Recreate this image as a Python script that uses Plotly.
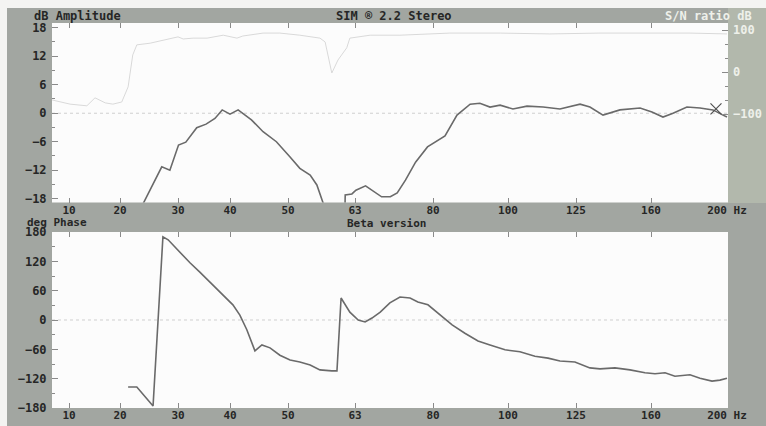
import numpy as np
import plotly.graph_objects as go

# ---------------- data ----------------
tick_freqs = [10, 20, 30, 40, 50, 63, 80, 100, 125, 160, 200]
tick_labels = ["10", "20", "30", "40", "50", "63", "80", "100", "125", "160", "200 Hz"]

amp_db_ticks = [-18, -12, -6, 0, 6, 12, 18]
sn_ticks = [-100, 0, 100]
phase_ticks = [-180, -120, -60, 0, 60, 120, 180]

# amplitude (dB), first lobe
amp1_freq = [23.8, 25.2, 27.2, 28.6, 30.1, 31.5, 33.6, 35.4, 37.1, 38.5, 40.0, 41.4,
             43.7, 45.7, 48.0, 50.4, 52.3, 54.3, 55.6, 57.0]
amp1_db = [-19.5, -16.2, -11.3, -12.0, -6.7, -6.1, -3.05, -2.3, -1.1, 0.7, -0.2, 0.7,
           -1.4, -3.9, -6.0, -9.2, -11.6, -13.0, -15.1, -19.5]
# amplitude (dB), second part
amp2_freq = [61.06, 61.1, 62.4, 63.2, 65.3, 67.0, 68.8, 70.7, 72.2, 74.0, 76.2, 78.8,
             83.2, 86.4, 89.9, 92.5, 95.2, 97.9, 101.8, 107.0, 112.9, 119.1, 126.9,
             131.5, 137.6, 145.5, 154.9, 160.5, 166.3, 171.6, 178.9, 185.8, 192.6,
             197.9, 200.0]
amp2_db = [-19.5, -17.2, -17.0, -16.2, -15.3, -16.4, -17.6, -17.6, -16.8, -14.1, -10.3,
           -7.1, -4.8, -0.4, 1.9, 2.1, 1.3, 1.7, 0.9, 1.5, 1.3, 0.9, 1.9, 1.3, -0.4,
           0.7, 1.1, 0.25, -0.8, 0.0, 1.3, 1.1, 0.7, -0.4, -0.8]

# S/N ratio (dB), faint trace on right axis
sn_freq = [6.67, 8.24, 10.2, 13.5, 15.1, 17.1, 18.6, 20.3, 21.4, 22.2, 22.9, 25.2,
           28.1, 30.0, 31.0, 32.9, 35.6, 38.7, 41.2, 42.2, 45.7, 48.6, 52.3, 56.2,
           57.2, 58.5, 59.7, 61.4, 62.0, 66.3, 72.8, 84.5, 97.9, 115.4, 135.7,
           159.5, 180.5, 200.0]
sn_db = [-66, -71, -76, -80, -61, -73, -76, -71, -35, 41, 65, 69, 77, 84, 79, 81, 81,
         88, 81, 86, 93, 93, 88, 81, 72, -2, 29, 58, 81, 88, 88, 93, 93, 91, 93, 93,
         93, 91]

# phase (deg)
phase_freq = [21.4, 22.9, 25.7, 27.4, 28.3, 32.3, 34.2, 37.4, 40.5, 41.7, 42.9, 44.3,
              45.5, 46.9, 48.6, 50.4, 52.3, 54.3, 56.2, 58.5, 59.5, 60.3, 62.0, 63.7,
              65.2, 66.7, 68.5, 70.6, 72.8, 75.0, 76.7, 78.9, 81.9, 85.1, 88.5, 92.0,
              95.2, 99.2, 104.4, 109.9, 114.7, 119.1, 124.6, 131.5, 136.2, 143.2,
              150.2, 157.2, 162.1, 167.4, 172.6, 180.5, 185.8, 192.1, 196.3, 200.0]
phase_deg = [-137, -137, -176, 170, 164, 117, 98, 65, 31, 10, -20, -63, -51, -57, -72,
             -82, -86, -92, -102, -104, -104, 45, 16, 0, -4, 4, 16, 35, 47, 45, 37, 31,
             10, -10, -27, -43, -51, -61, -65, -74, -78, -84, -86, -98, -100, -98,
             -102, -108, -110, -108, -115, -112, -119, -125, -123, -119]

cursor_freq = [194.2]
cursor_db = [0.9]

# ---------------- frequency scale (custom, piecewise) ----------------
W, H = 766, 426
SCALE_PX = [69, 120, 178, 230, 288, 355, 433, 508, 576, 651, 727]
X_LEFT, X_RIGHT = 52, 728


def fpos(f):
    f = np.asarray(f, dtype=float)
    p = np.interp(f, tick_freqs, SCALE_PX)
    slope0 = (SCALE_PX[1] - SCALE_PX[0]) / (tick_freqs[1] - tick_freqs[0])
    lo = f < tick_freqs[0]
    p[lo] = SCALE_PX[0] + (f[lo] - tick_freqs[0]) * slope0
    return p


BG = "#a2a6a1"
TXT = "#262626"
CURVE = "#6a6a6a"
FONT = "DejaVu Sans Mono"

fig = go.Figure()
fig.add_trace(go.Scatter(x=fpos(sn_freq), y=sn_db, mode="lines",
                         line=dict(color="#d9d9d9", width=1), xaxis="x", yaxis="y3",
                         hoverinfo="skip"))
fig.add_trace(go.Scatter(x=fpos(amp1_freq), y=amp1_db, mode="lines",
                         line=dict(color=CURVE, width=1.6), xaxis="x", yaxis="y"))
fig.add_trace(go.Scatter(x=fpos(amp2_freq), y=amp2_db, mode="lines",
                         line=dict(color=CURVE, width=1.6), xaxis="x", yaxis="y"))
fig.add_trace(go.Scatter(x=fpos(cursor_freq), y=cursor_db, mode="markers",
                         marker=dict(symbol="x-thin-open", size=11, color="#505050",
                                     line=dict(color="#505050", width=1.2)),
                         xaxis="x", yaxis="y"))
fig.add_trace(go.Scatter(x=fpos(phase_freq), y=phase_deg, mode="lines",
                         line=dict(color=CURVE, width=1.6), xaxis="x2", yaxis="y2"))


def px_x(p):
    return p / W


def px_y(p):
    return 1 - p / H


xtickfont = dict(family=FONT, size=11, color=TXT, weight="bold")
ytickfont = dict(family=FONT, size=12, color=TXT, weight="bold")
xcommon = dict(range=[X_LEFT, X_RIGHT], domain=[px_x(X_LEFT), px_x(X_RIGHT)],
               tickmode="array", tickvals=list(fpos(tick_freqs)), ticktext=tick_labels,
               ticks="inside", ticklen=5, tickcolor="#8a8a8a", tickwidth=1,
               showline=True, linecolor=BG, mirror="ticks", showgrid=False,
               zeroline=False, tickfont=xtickfont, fixedrange=True, automargin=False,
               ticklabelstandoff=-3)
ycommon = dict(ticks="inside", ticklen=6, tickcolor="#8a8a8a", showline=True,
               linecolor=BG, showgrid=False, zeroline=False, tickfont=ytickfont,
               ticklabelstandoff=2, automargin=False, fixedrange=True)

fig.update_layout(
    width=W, height=H, autosize=False,
    margin=dict(l=0, r=0, t=0, b=0, pad=0, autoexpand=False),
    paper_bgcolor=BG, plot_bgcolor="#fcfcfc",
    showlegend=False,
    xaxis=dict(anchor="y", **xcommon),
    xaxis2=dict(anchor="y2", **xcommon),
    yaxis=dict(domain=[px_y(202.5), px_y(23)], range=[-18.8, 19.0], anchor="x",
               tickmode="array", tickvals=amp_db_ticks,
               minor=dict(tickvals=[-15, -9, -3, 3, 9, 15], ticks="inside", ticklen=3,
                          tickcolor="#8a8a8a"),
               **ycommon),
    yaxis3=dict(overlaying="y", side="right", anchor="x", range=[-310, 117],
                tickmode="array", tickvals=sn_ticks,
                ticks="inside", ticklen=6, tickcolor="#8a8a8a",
                minor=dict(tickvals=[-67, -33, 33, 67], ticks="inside", ticklen=3,
                           tickcolor="#8a8a8a"),
                showgrid=False, zeroline=False, ticklabelstandoff=4, automargin=False,
                fixedrange=True,
                tickfont=dict(family=FONT, size=12, color="#eef0ea", weight="bold")),
    yaxis2=dict(domain=[px_y(408), px_y(232)], range=[-180, 180], anchor="x2",
                tickmode="array", tickvals=phase_ticks,
                minor=dict(tickvals=[-150, -90, -30, 30, 90, 150], ticks="inside",
                           ticklen=3, tickcolor="#8a8a8a"),
                **ycommon),
)

shapes = [
    dict(type="rect", xref="paper", yref="paper", x0=0, x1=px_x(7), y0=0, y1=1,
         fillcolor="#f4f4f2", line=dict(width=0), layer="below"),
    dict(type="rect", xref="paper", yref="paper", x0=0, x1=1, y0=px_y(8), y1=1,
         fillcolor="#f4f4f2", line=dict(width=0), layer="below"),
    dict(type="rect", xref="paper", yref="paper", x0=px_x(728), x1=1, y0=px_y(203),
         y1=px_y(8), fillcolor="#b2b8ac", line=dict(width=0), layer="below"),
    dict(type="line", xref="x domain", yref="y", x0=0, x1=1, y0=0, y1=0,
         line=dict(color="#cfcfcf", width=1, dash="dot"), layer="below"),
    dict(type="line", xref="x2 domain", yref="y2", x0=0, x1=1, y0=0, y1=0,
         line=dict(color="#cfcfcf", width=1, dash="dot"), layer="below"),
]
fig.update_layout(shapes=shapes)

hfont = dict(family=FONT, size=12, color=TXT, weight="bold")
lfont = dict(family=FONT, size=11, color=TXT, weight="bold")
annots = [
    dict(text="dB Amplitude", x=px_x(32), y=px_y(16), xanchor="left", font=hfont),
    dict(text="SIM ® 2.2 Stereo", x=px_x(394), y=px_y(16), xanchor="center", font=hfont),
    dict(text="S/N ratio dB", x=px_x(754), y=px_y(16), xanchor="right",
         font=dict(family=FONT, size=12, color="#eef0ea", weight="bold")),
    dict(text="deg Phase", x=px_x(25), y=px_y(222.5), xanchor="left", font=lfont),
    dict(text="Beta version", x=px_x(345), y=px_y(223), xanchor="left", font=lfont),
]
for a in annots:
    a.update(xref="paper", yref="paper", yanchor="middle", showarrow=False)
fig.update_layout(annotations=annots)

fig.write_html("out.html",
               config={"displayModeBar": False, "staticPlot": True},
               post_script="document.body.style.margin='0';"
                           "document.body.style.padding='0';"
                           "document.body.style.overflow='hidden';")
